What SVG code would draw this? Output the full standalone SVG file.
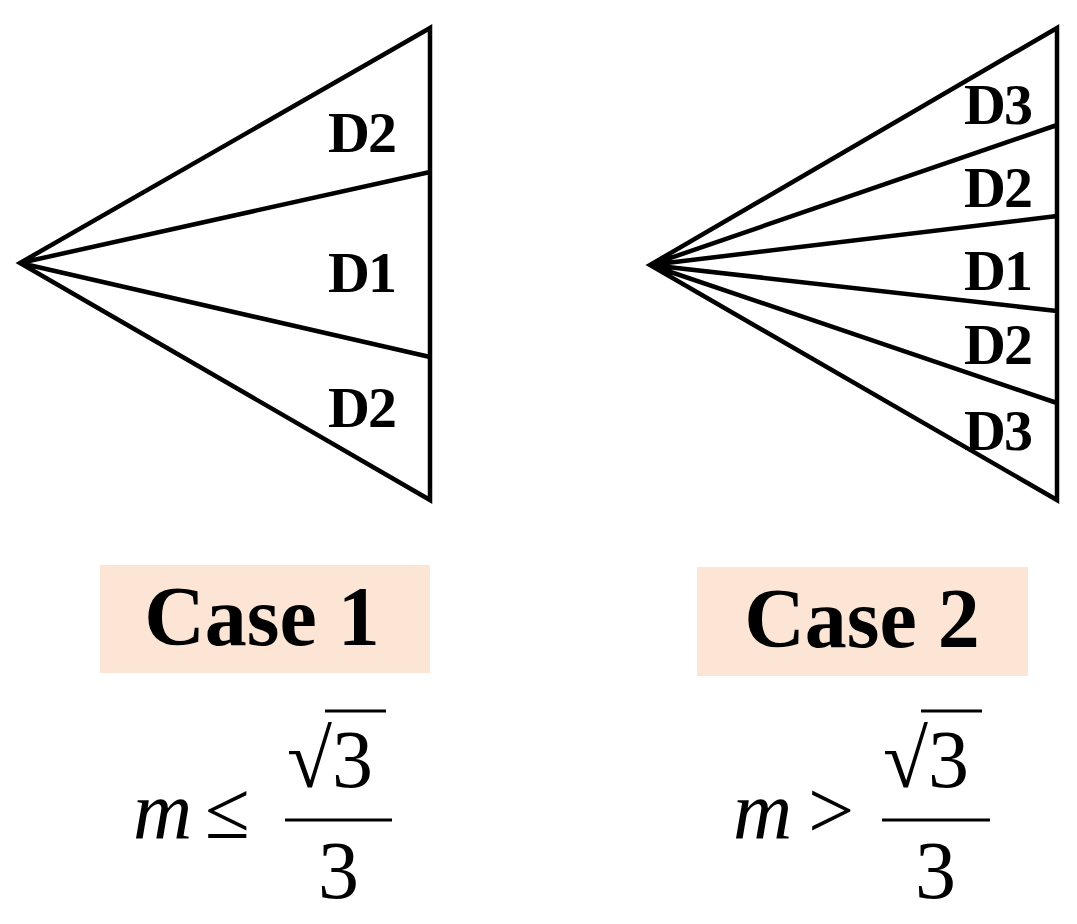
<svg xmlns="http://www.w3.org/2000/svg" width="1077" height="924" viewBox="0 0 1077 924">
<style>
.l{stroke:#000;stroke-width:4.5;fill:none;stroke-linejoin:miter}
.d{font-family:"Liberation Serif",serif;font-weight:bold;font-size:58px;letter-spacing:-2px}
.c{font-family:"Liberation Serif",serif;font-weight:bold;font-size:84px;text-anchor:middle}
.m{font-family:"Liberation Serif",serif;font-size:82px}
.box{fill:#fce5d5}
</style>
<rect width="1077" height="924" fill="#fff"/>
<g id="case1">
<path class="l" d="M430,28 L20,263 L430,500 Z M20,263 L430,172 M20,263 L430,357"/>
<text class="d" x="328" y="152">D2</text>
<text class="d" x="328" y="292">D1</text>
<text class="d" x="328" y="427">D2</text>
</g>
<g id="case2">
<path class="l" d="M1057,28 L650,265 L1057,500 Z M650,265 L1057,125 M650,265 L1057,216 M650,265 L1057,311 M650,265 L1057,403"/>
<text class="d" x="964" y="124">D3</text>
<text class="d" x="964" y="207">D2</text>
<text class="d" x="964" y="290">D1</text>
<text class="d" x="964" y="364">D2</text>
<text class="d" x="964" y="450">D3</text>
</g>
<g id="label1">
<rect class="box" x="100" y="565" width="330" height="108"/>
<text class="c" x="262" y="645">Case 1</text>
</g>
<g id="label2">
<rect class="box" x="697" y="567" width="331" height="109"/>
<text class="c" x="862" y="647">Case 2</text>
</g>
<g id="formula1">
<text class="m" x="133" y="838" font-style="italic">m</text>
<text class="m" x="205" y="838">≤</text>
<text class="m" x="287" y="787">√3</text>
<line x1="325" y1="711" x2="386" y2="711" stroke="#000" stroke-width="3"/>
<line x1="285" y1="820" x2="392" y2="820" stroke="#000" stroke-width="3"/>
<text class="m" x="318" y="898">3</text>
</g>
<g id="formula2">
<text class="m" x="733" y="838" font-style="italic">m</text>
<text class="m" x="808" y="838">&gt;</text>
<text class="m" x="883" y="787">√3</text>
<line x1="921" y1="711" x2="982" y2="711" stroke="#000" stroke-width="3"/>
<line x1="882" y1="820" x2="990" y2="820" stroke="#000" stroke-width="3"/>
<text class="m" x="915" y="898">3</text>
</g>
</svg>
